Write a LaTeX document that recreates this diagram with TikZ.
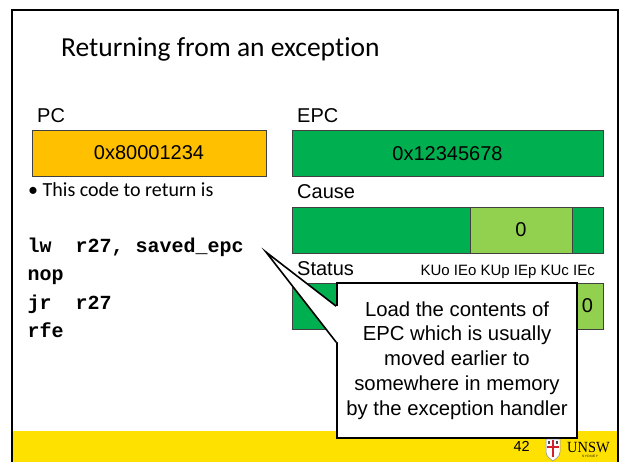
\documentclass[tikz,border=0pt]{standalone}
\usepackage{fontspec}
\setmainfont{Liberation Sans}
\setmonofont{Liberation Mono}
\newfontfamily\calibrifont[Ligatures=NoCommon]{Carlito}
\newfontfamily\crestfont{Liberation Serif}
\usetikzlibrary{positioning,calc}
\definecolor{pc-orange}{HTML}{FFC000}
\definecolor{reg-green}{HTML}{00B050}
\definecolor{bit-green}{HTML}{92D050}
\definecolor{foot-yellow}{HTML}{FFE100}
\definecolor{crest-red}{HTML}{D2232A}
\tikzset{
    reg-box/.style = {draw=black!75, line width=0.9pt, rectangle, inner sep=0pt, minimum height=46pt, font=\fontsize{20}{24}\selectfont},
    bit-box/.style = {reg-box, fill=bit-green},
    reg-label/.style = {anchor=base west, inner sep=0pt, font=\fontsize{20}{24}\selectfont},
    bit-names/.style = {anchor=base east, inner sep=0pt, font=\fontsize{15}{18}\selectfont},
    code-line/.style = {anchor=base west, inner sep=0pt, font=\fontsize{20}{24}\selectfont\ttfamily\bfseries},
    note-box/.style = {draw=black, fill=white, line width=1.6pt, rectangle, inner sep=0pt, minimum width=240pt, minimum height=155pt, align=center, font=\fontsize{20.3}{24.8}\selectfont},
    slide-title/.style = {anchor=base west, inner sep=0pt, font=\calibrifont\fontsize{27.5}{32}\selectfont},
}

\begin{document}
\begin{tikzpicture}[x=1pt, y=-1pt]
\useasboundingbox (0,0) rectangle (624,461);
\fill[foot-yellow] (12,431) rectangle (618,470);
\draw[line width=2pt] (12,470) -- (12,10) -- (618,10) -- (618,470);

\node[slide-title] (title) at (61,56.5) {Returning from an exception};

\node[reg-label] (pclabel) at (37,122) {PC};
\node[reg-box, fill=pc-orange, minimum width=234pt] (pc) at (149,153) {0x80001234};
\node[anchor=base west, inner sep=0pt, font=\calibrifont\fontsize{20}{24}\selectfont] (bullet) at (28,196) {\textbullet\ This code to return is};

\node[code-line] (lw) at (27.5,252) {lw\ \ r27, saved\_epc};
\node[code-line] (nop) at (27.5,280.5) {nop};
\node[code-line] (jr) at (27.5,309) {jr\ \ r27};
\node[code-line] (rfe) at (27.5,337.5) {rfe};

\node[reg-label] (epclabel) at (297,122) {EPC};
\node[reg-box, fill=reg-green, minimum width=311pt] (epc) at (447.5,153.5) {0x12345678};

\node[reg-label] (causelabel) at (297,198.5) {Cause};
\node[reg-box, fill=reg-green, minimum width=311pt] (cause) at (447.5,230) {};
\node[bit-box, minimum width=102pt] (exccode) at (521,230) {0};

\node[reg-label] (statuslabel) at (297,275.5) {Status};
\node[bit-names] (bits) at (595,275.5) {KUo IEo KUp IEp KUc IEc};
\node[reg-box, fill=reg-green, minimum width=311pt] (status) at (447.5,306) {};
\node[bit-box, minimum width=31pt, anchor=east] (iec) at (status.east) {0};

\node[note-box] (note) at (457,360.5) {Load the contents of\\EPC which is usually\\moved earlier to\\somewhere in memory\\by the exception handler};
\coordinate (tip) at ([xshift=22pt]lw.base east);
\coordinate (wa) at ($(note.north west)+(0,24)$);
\coordinate (wb) at ($(note.north west)+(0,60)$);
\fill[white] ([xshift=1.6pt]wa) -- (wa) -- (tip) -- (wb) -- ([xshift=1.6pt]wb) -- cycle;
\draw[line width=1.6pt] (wa) -- (tip) -- (wb);

\node[anchor=base east, inner sep=0pt, font=\fontsize{14.5}{17}\selectfont] (page) at (530,451) {42};
\filldraw[fill=white, draw=black!45, line width=0.5pt] (546,439) -- (560,439) -- (560,452) .. controls (560,457) and (555,459) .. (553,461) .. controls (551,459) and (546,457) .. (546,452) -- cycle;
\fill[crest-red] (551.7,440) rectangle (554.3,457);
\fill[crest-red] (547,445.7) rectangle (559,448.3);
\fill[black!70] (548,441) rectangle (550,443.5);
\fill[black!70] (556,441) rectangle (558,443.5);
\node[anchor=base west, inner sep=0pt, font=\crestfont\fontsize{15.5}{17}\selectfont] (unsw) at (567,452) {\scalebox{0.93}[1]{UNSW}};
\node[inner sep=0pt, font=\fontsize{3.2}{4}\selectfont] (sydney) at (590,456.5) {S\,Y\,D\,N\,E\,Y};
\end{tikzpicture}
\end{document}
